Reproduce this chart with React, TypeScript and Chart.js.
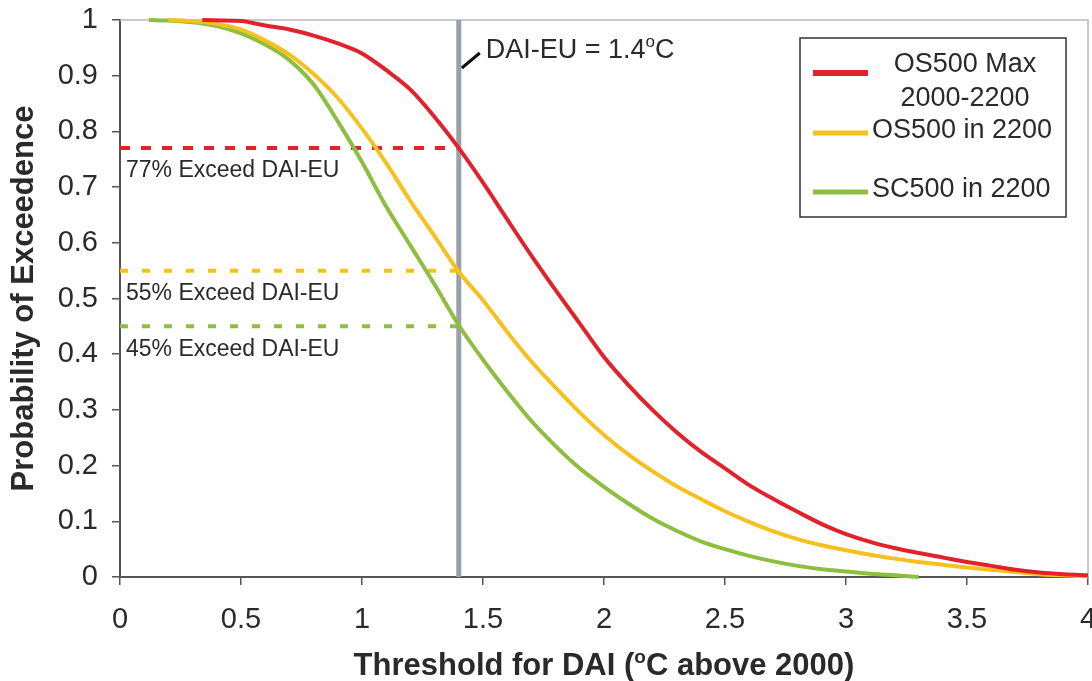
import React, { useEffect, useRef } from 'react';
import { Chart, registerables } from 'chart.js';

Chart.register(...registerables);

const FONT = '"Liberation Sans", Arial, Helvetica, sans-serif';

// ---- data ----
const redX = [0.34, 0.5, 0.6, 0.7, 0.8, 0.9, 1.0, 1.1, 1.2, 1.3, 1.4, 1.5, 1.6, 1.7, 1.8, 1.9, 2.0, 2.1, 2.2, 2.3, 2.4, 2.5, 2.6, 2.7, 2.8, 2.9, 3.0, 3.1, 3.2, 3.3, 3.4, 3.5, 3.6, 3.7, 3.8, 3.9, 4.0];
const redY = [1.0, 0.998, 0.99, 0.983, 0.972, 0.958, 0.94, 0.91, 0.875, 0.826, 0.77, 0.708, 0.642, 0.577, 0.515, 0.455, 0.395, 0.345, 0.3, 0.26, 0.225, 0.195, 0.165, 0.14, 0.117, 0.095, 0.077, 0.063, 0.052, 0.043, 0.035, 0.027, 0.02, 0.013, 0.008, 0.005, 0.003];

const yellowX = [0.2, 0.3, 0.4, 0.5, 0.6, 0.7, 0.8, 0.9, 1.0, 1.1, 1.2, 1.3, 1.4, 1.5, 1.6, 1.7, 1.8, 1.9, 2.0, 2.1, 2.2, 2.3, 2.4, 2.5, 2.6, 2.7, 2.8, 2.9, 3.0, 3.1, 3.2, 3.3, 3.4, 3.5, 3.6, 3.7, 3.8, 3.9, 4.0];
const yellowY = [1.0, 0.998, 0.993, 0.983, 0.963, 0.938, 0.903, 0.86, 0.805, 0.743, 0.675, 0.612, 0.548, 0.497, 0.44, 0.387, 0.34, 0.295, 0.255, 0.22, 0.19, 0.163, 0.14, 0.118, 0.099, 0.082, 0.068, 0.057, 0.048, 0.04, 0.033, 0.027, 0.022, 0.017, 0.013, 0.009, 0.005, 0.003, 0.001];

const greenX = [0.12, 0.2, 0.3, 0.4, 0.5, 0.6, 0.7, 0.8, 0.9, 1.0, 1.1, 1.2, 1.3, 1.4, 1.5, 1.6, 1.7, 1.8, 1.9, 2.0, 2.1, 2.2, 2.3, 2.4, 2.5, 2.6, 2.7, 2.8, 2.9, 3.0, 3.1, 3.2, 3.3];
const greenY = [1.0, 0.999, 0.996, 0.989, 0.976, 0.956, 0.928, 0.884, 0.818, 0.745, 0.665, 0.595, 0.525, 0.452, 0.39, 0.333, 0.28, 0.235, 0.195, 0.162, 0.132, 0.105, 0.083, 0.064, 0.05, 0.038, 0.028, 0.02, 0.014, 0.01, 0.006, 0.003, 0.0];

const seriesNames = ['OS500 Max 2000-2200', 'OS500 in 2200', 'SC500 in 2200'];
const legendLines = [['OS500 Max', '2000-2200'], ['OS500 in 2200'], ['SC500 in 2200']];

const daiEu = 1.4;
const exceedValues = [0.77, 0.55, 0.45];
const exceedLabels = ['77% Exceed DAI-EU', '55% Exceed DAI-EU', '45% Exceed DAI-EU'];

const xTickValues = [0, 0.5, 1, 1.5, 2, 2.5, 3, 3.5, 4];
const xTickLabels = ['0', '0.5', '1', '1.5', '2', '2.5', '3', '3.5', '4'];
const yTickValues = [0, 0.1, 0.2, 0.3, 0.4, 0.5, 0.6, 0.7, 0.8, 0.9, 1];
const yTickLabels = ['0', '0.1', '0.2', '0.3', '0.4', '0.5', '0.6', '0.7', '0.8', '0.9', '1'];

// ---- styles ----
const RED = '#e2222b';
const YELLOW = '#f6c11f';
const GREEN = '#8dbe3f';
const GRAY = '#9aa0a9';
const AXIS = '#555555';
const TEXT = '#2a2a2a';

type Part = { t: string; sup?: boolean };

function drawRich(ctx: CanvasRenderingContext2D, parts: Part[], x: number, y: number, size: number, weight: string, align: 'left' | 'center') {
  const supSize = Math.round(size * 0.62);
  const widths = parts.map((p) => {
    ctx.font = `${weight} ${p.sup ? supSize : size}px ${FONT}`;
    return ctx.measureText(p.t).width;
  });
  const total = widths.reduce((a, b) => a + b, 0);
  let cx = align === 'center' ? x - total / 2 : x;
  ctx.textAlign = 'left';
  ctx.textBaseline = 'alphabetic';
  parts.forEach((p, i) => {
    ctx.font = `${weight} ${p.sup ? supSize : size}px ${FONT}`;
    ctx.fillText(p.t, cx, p.sup ? y - size * 0.4 : y);
    cx += widths[i];
  });
}

const overlayPlugin = {
  id: 'overlay',
  beforeDatasetsDraw(chart: any) {
    const { ctx, chartArea: ca } = chart;
    ctx.save();
    ctx.strokeStyle = '#b9b9b9';
    ctx.lineWidth = 1.5;
    ctx.beginPath();
    ctx.moveTo(ca.left, ca.top);
    ctx.lineTo(ca.right, ca.top);
    ctx.lineTo(ca.right, ca.bottom);
    ctx.stroke();
    ctx.restore();
  },
  afterDraw(chart: any) {
    const { ctx, chartArea: ca, scales } = chart;
    const xs = scales.x;
    const ys = scales.y;
    ctx.save();
    ctx.fillStyle = TEXT;

    // exceedance labels
    ctx.font = `23px ${FONT}`;
    ctx.textAlign = 'left';
    ctx.textBaseline = 'middle';
    exceedValues.forEach((v, i) => {
      ctx.fillText(exceedLabels[i], xs.getPixelForValue(0) + 6, ys.getPixelForValue(v) + 23);
    });

    // DAI-EU annotation
    const px = xs.getPixelForValue(daiEu);
    const top = ys.getPixelForValue(1);
    ctx.strokeStyle = '#111';
    ctx.lineWidth = 3;
    ctx.beginPath();
    ctx.moveTo(px + 3, top + 48);
    ctx.lineTo(px + 21, top + 33);
    ctx.stroke();
    ctx.fillStyle = TEXT;
    drawRich(ctx, [{ t: 'DAI-EU = ' + String(daiEu) }, { t: 'o', sup: true }, { t: 'C' }], px + 27, top + 38, 27, 'normal', 'left');

    // x-axis title
    drawRich(
      ctx,
      [{ t: 'Threshold for DAI (' }, { t: 'o', sup: true }, { t: 'C above 2000)' }],
      (ca.left + ca.right) / 2,
      675,
      31,
      'bold',
      'center'
    );

    // legend
    const bx = ca.right - 288;
    const by = ca.top + 18;
    const bw = 266;
    const bh = 179;
    ctx.fillStyle = '#ffffff';
    ctx.fillRect(bx, by, bw, bh);
    ctx.strokeStyle = '#333';
    ctx.lineWidth = 1.5;
    ctx.strokeRect(bx, by, bw, bh);
    const lineYs = [35, 95, 154];
    const ds = chart.data.datasets;
    ctx.font = `27px ${FONT}`;
    ctx.textBaseline = 'middle';
    legendLines.forEach((lines, i) => {
      ctx.strokeStyle = ds[i].borderColor;
      ctx.lineWidth = i === 0 ? 6 : 5;
      ctx.beginPath();
      ctx.moveTo(bx + 13, by + lineYs[i]);
      ctx.lineTo(bx + 68, by + lineYs[i]);
      ctx.stroke();
      ctx.fillStyle = TEXT;
      if (lines.length > 1) {
        ctx.textAlign = 'center';
        ctx.fillText(lines[0], bx + 165, by + 27);
        ctx.fillText(lines[1], bx + 165, by + 61);
      } else {
        ctx.textAlign = 'left';
        ctx.fillText(lines[0], bx + 72, by + lineYs[i] - 2);
      }
    });
    ctx.restore();
  },
};

const toPts = (xs: number[], ys: number[]) => xs.map((x, i) => ({ x, y: ys[i] }));

export default function App() {
  const ref = useRef<HTMLCanvasElement | null>(null);

  useEffect(() => {
    if (!ref.current) return;
    Chart.defaults.font.family = FONT;
    const curveColors = [RED, YELLOW, GREEN];
    const curves = [
      toPts(redX, redY),
      toPts(yellowX, yellowY),
      toPts(greenX, greenY),
    ].map((data, i) => ({
      label: seriesNames[i],
      data,
      borderColor: curveColors[i],
      backgroundColor: curveColors[i],
      borderWidth: 4,
      pointRadius: 0,
      cubicInterpolationMode: 'monotone' as const,
      order: 0,
      clip: 3,
    }));
    const dashes = exceedValues.map((v, i) => ({
      label: exceedLabels[i],
      data: [
        { x: 0, y: v },
        { x: daiEu, y: v },
      ],
      borderColor: curveColors[i],
      borderWidth: 4,
      borderDash: i === 0 ? [10, 11] : [8, 14],
      pointRadius: 0,
      order: 2,
    }));
    const chart = new Chart(ref.current, {
      type: 'line',
      data: {
        datasets: [
          ...curves,
          {
            label: 'DAI-EU',
            data: [
              { x: daiEu, y: 0 },
              { x: daiEu, y: 1 },
            ],
            borderColor: GRAY,
            borderWidth: 5,
            pointRadius: 0,
            order: 1,
          },
          ...dashes,
        ],
      },
      options: {
        animation: false,
        responsive: false,
        devicePixelRatio: 1,
        layout: { padding: { top: 20, right: 4, left: 0, bottom: 0 } },
        plugins: { legend: { display: false }, tooltip: { enabled: false } },
        scales: {
          x: {
            type: 'linear',
            min: 0,
            max: 4,
            afterBuildTicks: (s: any) => {
              s.ticks = xTickValues.map((v) => ({ value: v }));
            },
            afterFit: (s: any) => {
              s.height = 104;
              s.paddingLeft = 0;
              s.paddingRight = 0;
            },
            ticks: {
              autoSkip: false,
              maxRotation: 0,
              padding: 18,
              color: TEXT,
              font: { size: 29 },
              callback: (_v: any, i: number) => xTickLabels[i],
            },
            grid: { drawOnChartArea: false, drawTicks: true, tickLength: 8, color: AXIS, lineWidth: 1.5 },
            border: { display: true, color: AXIS, width: 2 },
          },
          y: {
            type: 'linear',
            min: 0,
            max: 1,
            afterBuildTicks: (s: any) => {
              s.ticks = yTickValues.map((v) => ({ value: v }));
            },
            afterFit: (s: any) => {
              s.width = 120;
              s.paddingTop = 0;
              s.paddingBottom = 0;
            },
            ticks: {
              autoSkip: false,
              padding: 14,
              color: TEXT,
              font: { size: 29 },
              callback: (_v: any, i: number) => yTickLabels[i],
            },
            grid: { drawOnChartArea: false, drawTicks: true, tickLength: 8, color: AXIS, lineWidth: 1.5 },
            border: { display: true, color: AXIS, width: 2 },
            title: {
              display: true,
              text: 'Probability of Exceedence',
              color: TEXT,
              font: { size: 31, weight: 'bold' },
              padding: { top: 6, bottom: 0 },
            },
          },
        },
      },
      plugins: [overlayPlugin],
    });
    return () => chart.destroy();
  }, []);

  return (
    <div style={{ position: 'absolute', left: 0, top: 0, width: 1092, height: 681, background: '#fff' }}>
      <canvas ref={ref} width={1092} height={681} style={{ display: 'block' }} />
    </div>
  );
}
